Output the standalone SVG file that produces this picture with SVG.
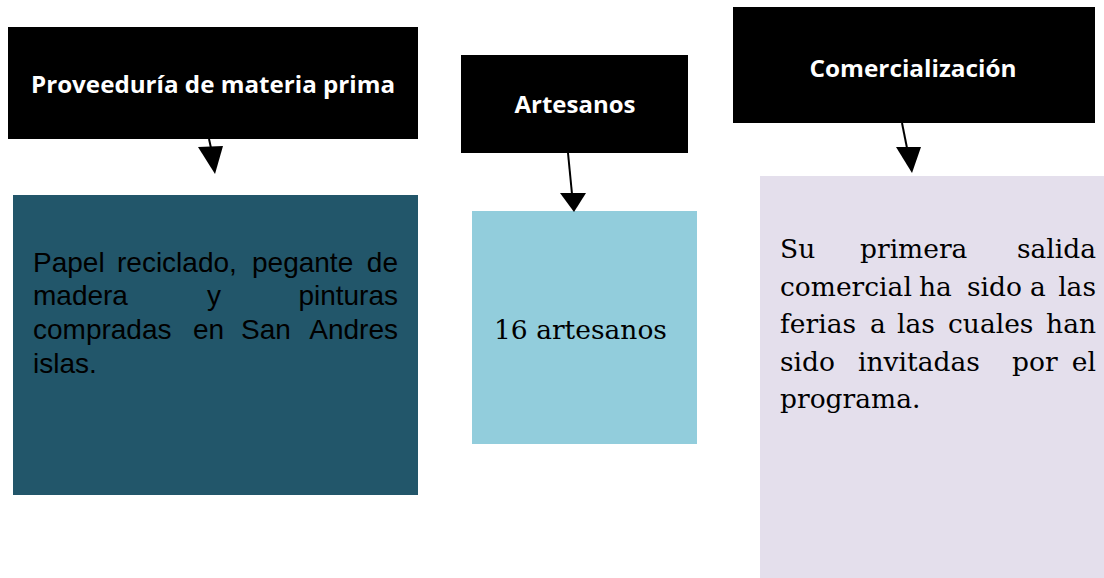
<svg xmlns="http://www.w3.org/2000/svg" width="1104" height="578" viewBox="0 0 1104 578">
<style>
.hdr{fill:#000}
.ht{font-family:"Open Sans","Liberation Sans",sans-serif;font-weight:bold;font-size:23px;fill:#fff;text-anchor:middle}
.sans{font-family:"Liberation Sans",Arial,sans-serif;font-size:28px;fill:#000}
.serif{font-family:"DejaVu Serif","Liberation Serif",serif;font-size:26.5px;fill:#000}
.e{text-anchor:end}
.conn line{stroke:#000;stroke-width:2}
.conn polygon{fill:#000}
</style>
<rect width="1104" height="578" fill="#fff"/>
<g id="node-proveeduria">
<rect class="hdr" x="8" y="27" width="410" height="112"/>
<text class="ht" x="213" y="93" textLength="364" lengthAdjust="spacingAndGlyphs">Proveeduría de materia prima</text>
</g>
<g id="node-artesanos">
<rect class="hdr" x="461" y="55" width="227" height="98"/>
<text class="ht" x="575" y="113" textLength="121" lengthAdjust="spacingAndGlyphs">Artesanos</text>
</g>
<g id="node-comercializacion">
<rect class="hdr" x="733" y="7" width="362" height="116"/>
<text class="ht" x="913" y="77" textLength="207" lengthAdjust="spacingAndGlyphs">Comercialización</text>
</g>
<g id="node-materiales">
<rect x="13" y="195" width="405" height="300" fill="#22566A"/>
<text class="sans" y="272"><tspan x="33">Papel</tspan><tspan x="117">reciclado,</tspan><tspan x="252">pegante</tspan></text>
<text class="sans e" x="398" y="272">de</text>
<text class="sans" y="305"><tspan x="33">madera</tspan><tspan x="207">y</tspan></text>
<text class="sans e" x="398" y="305">pinturas</text>
<text class="sans" y="339"><tspan x="33">compradas</tspan><tspan x="193">en</tspan><tspan x="241">San</tspan></text>
<text class="sans e" x="398" y="339">Andres</text>
<text class="sans" x="33" y="373">islas.</text>
</g>
<g id="node-16artesanos">
<rect x="472" y="211" width="225" height="233" fill="#92CDDC"/>
<text class="serif" x="494" y="339">16 artesanos</text>
</g>
<g id="node-ferias">
<rect x="760" y="176" width="344" height="402" fill="#E4DFEC"/>
<text class="serif" y="258"><tspan x="780">Su</tspan><tspan x="860">primera</tspan></text>
<text class="serif e" x="1096" y="258">salida</text>
<text class="serif" y="296"><tspan x="780">comercial</tspan><tspan x="919">ha</tspan><tspan x="967">sido</tspan><tspan x="1030">a</tspan></text>
<text class="serif e" x="1096" y="296">las</text>
<text class="serif" y="333"><tspan x="780">ferias</tspan><tspan x="870">a</tspan><tspan x="897">las</tspan><tspan x="948">cuales</tspan></text>
<text class="serif e" x="1096" y="333">han</text>
<text class="serif" y="371"><tspan x="780">sido</tspan><tspan x="858">invitadas</tspan><tspan x="1012">por</tspan></text>
<text class="serif e" x="1096" y="371">el</text>
<text class="serif" x="780" y="408">programa.</text>
</g>
<g id="connectors" class="conn">
<line x1="209" y1="139" x2="211" y2="148"/>
<polygon points="198,147 223,146 215,174"/>
<line x1="568" y1="153" x2="572" y2="194"/>
<polygon points="560,193 586,193 574,212"/>
<line x1="902" y1="123" x2="907" y2="148"/>
<polygon points="896,147 921,147 912,173"/>
</g>
</svg>
